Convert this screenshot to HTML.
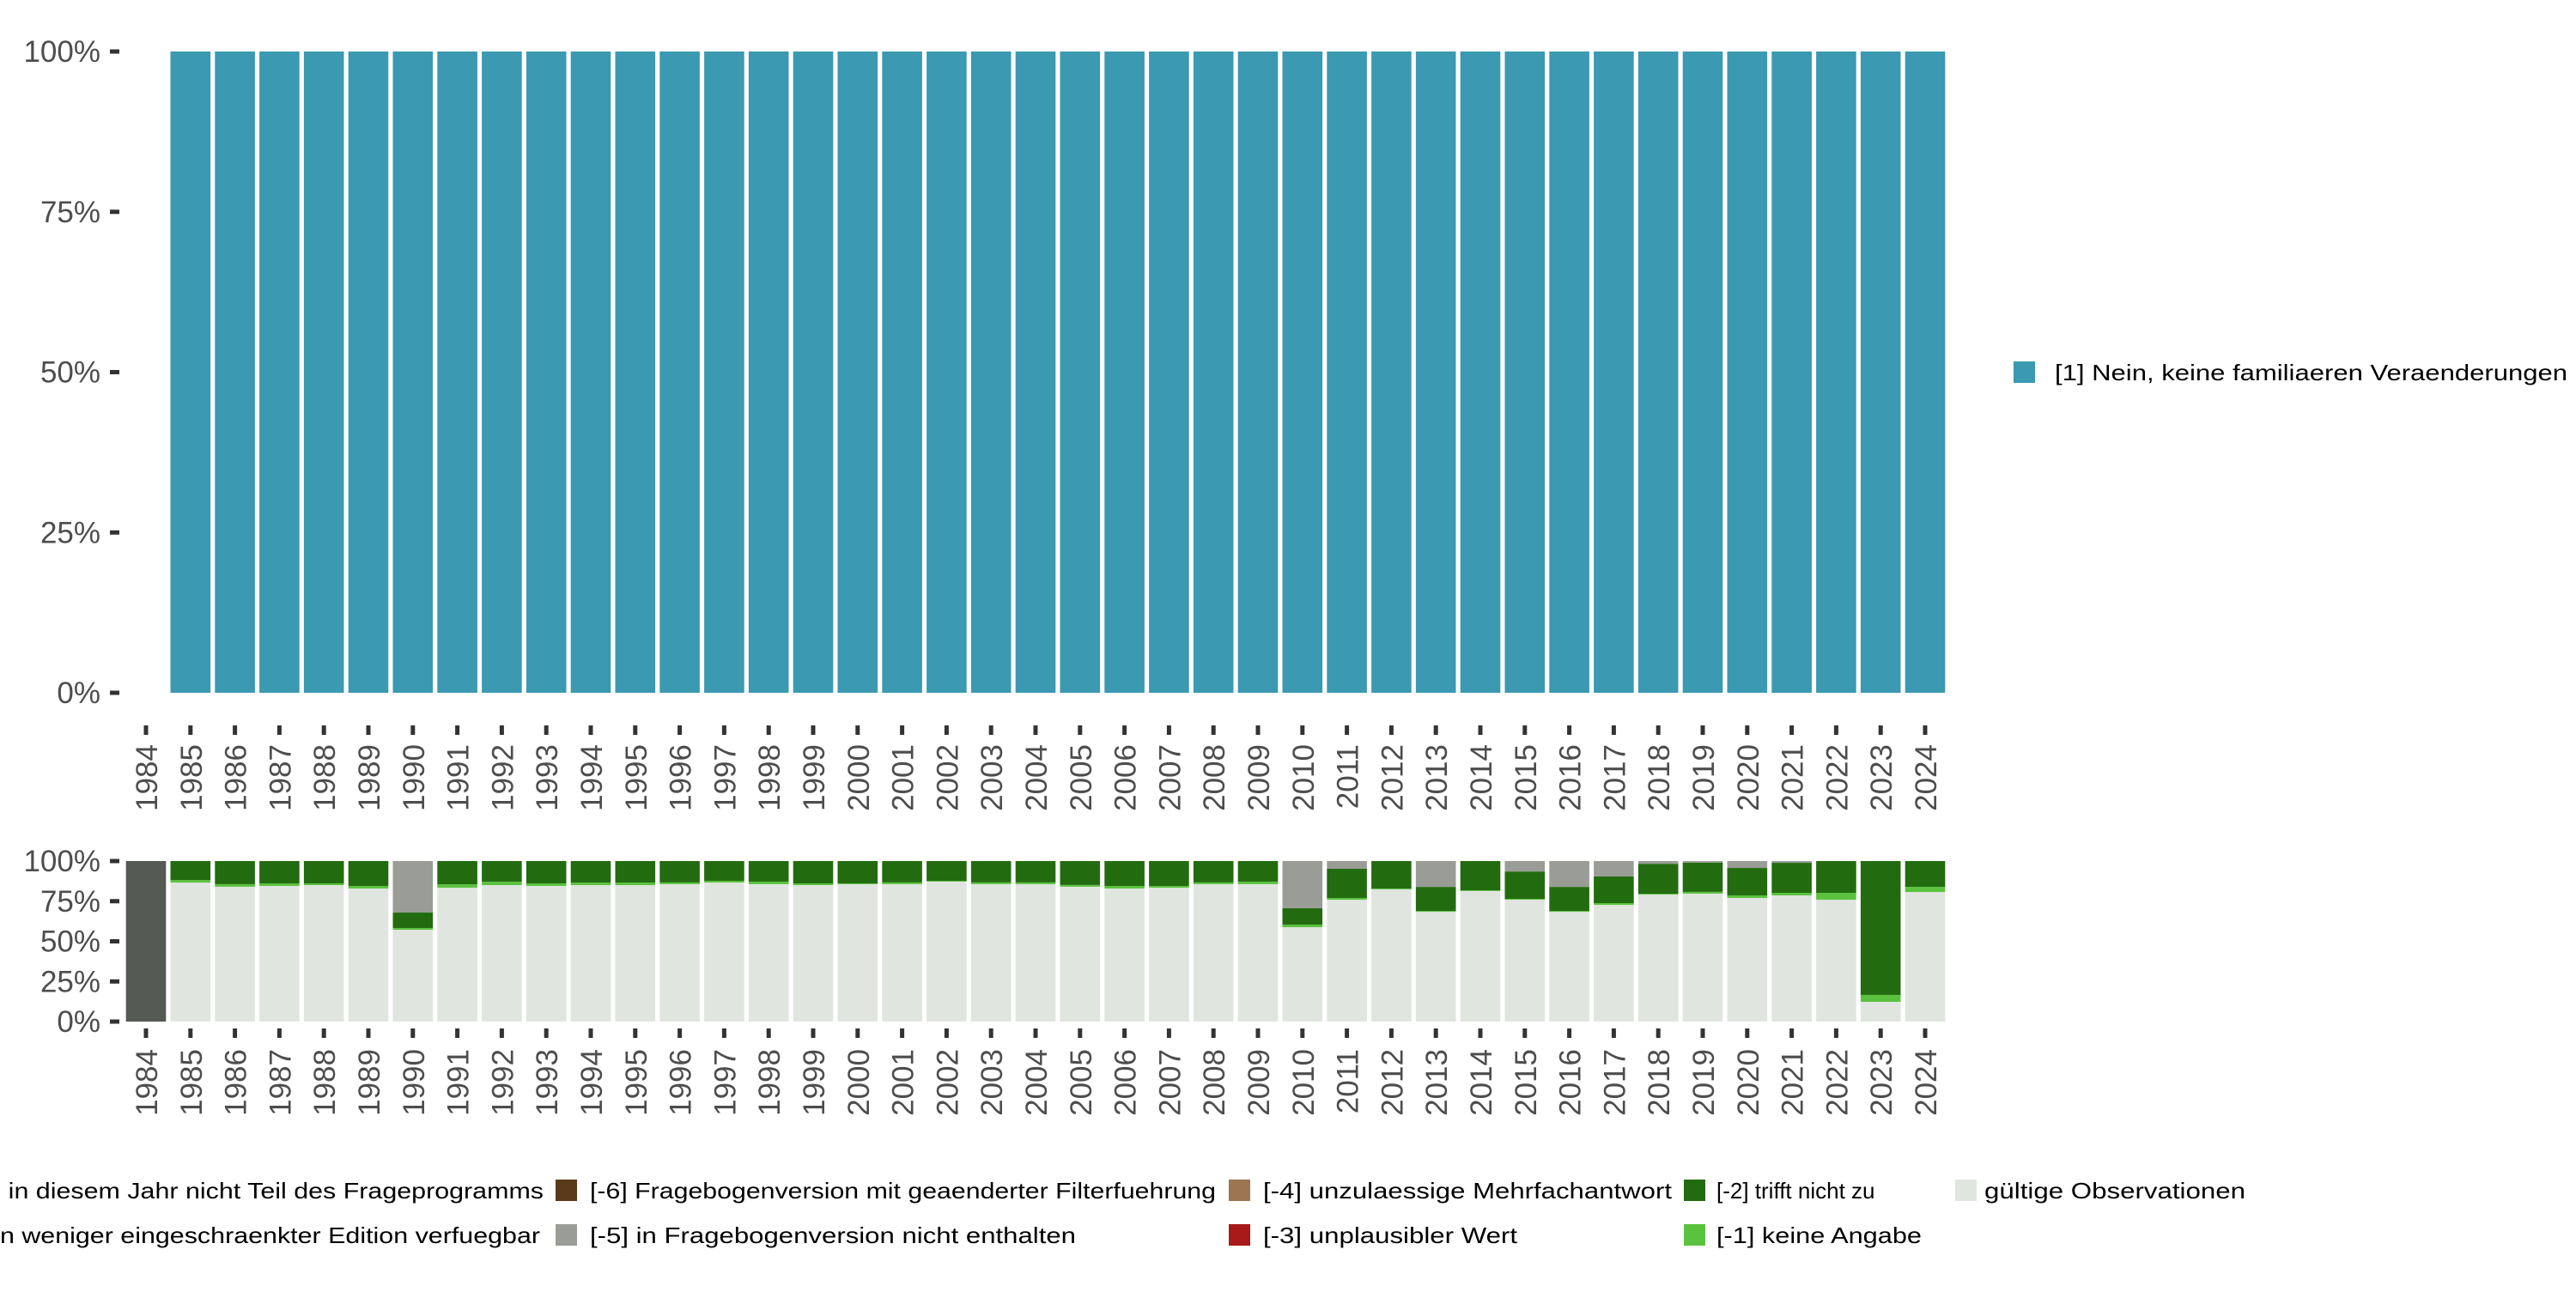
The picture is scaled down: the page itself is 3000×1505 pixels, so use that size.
<!DOCTYPE html>
<html><head><meta charset="utf-8"><style>
body{margin:0;background:#fff;}
svg text{font-family:"Liberation Sans",sans-serif;}
</style></head><body>
<svg id="chart" width="3000" height="1500" viewBox="0 0 3000 1500" xmlns="http://www.w3.org/2000/svg"></svg>
<script>
const years = [];
for (let y = 1984; y <= 2024; y++) years.push(y);
const yTicks = [0, 25, 50, 75, 100];
const tickLabels = ["0%", "25%", "50%", "75%", "100%"];
// top chart: share of [1] per year (1984 missing)
const topValues = [null,100,100,100,100,100,100,100,100,100,100,100,100,100,100,100,100,100,100,100,100,100,100,100,100,100,100,100,100,100,100,100,100,100,100,100,100,100,100,100,100];
// bottom chart series (percent), stacked from bottom
const valid = [0,86.6,84.0,84.5,85.0,82.9,57.2,83.4,85.0,84.5,85.0,85.0,85.6,86.6,85.6,85.0,85.6,85.6,87.2,85.6,85.6,84.0,82.9,83.4,85.6,85.6,58.8,75.9,82.4,68.4,81.3,75.9,68.4,72.7,79.1,79.7,77.0,78.6,75.9,12.3,80.7];
const noAnswer = [0,1.6,1.6,1.6,1.1,1.6,1.1,2.1,2.1,1.6,1.6,1.6,1.1,1.1,1.6,1.1,0.5,1.1,0.5,1.1,1.1,1.1,1.6,1.1,1.1,1.6,1.6,1.1,0.5,0.5,0.5,0.5,0.5,1.1,0.5,1.1,1.6,1.6,4.3,4.3,3.2];
const notApplies = [0,11.8,14.4,13.9,13.9,15.5,9.6,14.5,12.9,13.9,13.4,13.4,13.3,12.3,12.8,13.9,13.9,13.3,12.3,13.3,13.3,14.9,15.5,15.5,13.3,12.8,10.2,18.2,17.1,15.0,18.2,17.1,15.0,16.6,18.7,18.2,17.1,18.7,19.8,83.4,16.1];
const notInVersion = [0,0,0,0,0,0,32.1,0,0,0,0,0,0,0,0,0,0,0,0,0,0,0,0,0,0,0,29.4,4.8,0,16.1,0,6.5,16.1,9.6,1.7,1.0,4.3,1.1,0,0,0];
const notInYear = [100,0,0,0,0,0,0,0,0,0,0,0,0,0,0,0,0,0,0,0,0,0,0,0,0,0,0,0,0,0,0,0,0,0,0,0,0,0,0,0,0];

const svg = document.getElementById('chart');
const NS = 'http://www.w3.org/2000/svg';
function mk(tag, attrs, parent) {
  const e = document.createElementNS(NS, tag);
  for (const k in attrs) e.setAttribute(k, attrs[k]);
  (parent || svg).appendChild(e);
  return e;
}
const x0 = 170, step = 51.8, bw = 46.6;
const xPos = i => x0 + i * step;

function drawAxes(yTop, yBot, tickY, labelY, prefix) {
  const ys = v => yBot - (yBot - yTop) * v / 100;
  yTicks.forEach((t, i) => {
    const tk = mk('rect', {x:128, y:ys(t)-2.5, width:11, height:5, fill:'#333'});
    
    
    const tx = mk('text', {x:117, y:ys(t)+12, 'text-anchor':'end', 'font-size':35, fill:'#4d4d4d'});
    tx.textContent = tickLabels[i];
    
    
  });
  years.forEach((yr, i) => {
    const tk = mk('rect', {x:xPos(i)-2.5, y:tickY, width:5, height:11, fill:'#333'});
    
    
    const tx = mk('text', {transform:'translate(' + (xPos(i)+13) + ',' + labelY + ') rotate(-90)', 'text-anchor':'end', 'font-size':35, fill:'#4d4d4d'});
    tx.textContent = yr;
    
    
  });
  return ys;
}

// top chart
const ysTop = drawAxes(60, 807, 845, 867, 'top');
topValues.forEach((v, i) => {
  if (v === null) return;
  const r = mk('rect', {x:xPos(i)-bw/2, y:ysTop(v), width:bw, height:ysTop(0)-ysTop(v), fill:'#3b99b1'});
  
  
});

// bottom chart
const ysBot = drawAxes(1003, 1190, 1198, 1222, 'bottom');
const series = [
  {vals: valid, color:'#e0e5e0', name:'valid'},
  {vals: noAnswer, color:'#5bc23f', name:'no-answer'},
  {vals: notApplies, color:'#226c0f', name:'not-applies'},
  {vals: notInVersion, color:'#999d96', name:'not-in-version'},
  {vals: notInYear, color:'#535953', name:'not-in-year'}
];
years.forEach((yr, i) => {
  let cum = 0;
  series.forEach(s => {
    const v = s.vals[i];
    if (v > 0) {
      const r = mk('rect', {x:xPos(i)-bw/2, y:ysBot(cum+v), width:bw, height:ysBot(cum)-ysBot(cum+v), fill:s.color});
      
      
    }
    cum += v;
  });
});

// top legend
const lk = mk('rect', {x:2345, y:421, width:25, height:25, fill:'#3b99b1'});


const lt = mk('text', {x:2393, y:443, 'font-size':26, fill:'#000', textLength:597, lengthAdjust:'spacingAndGlyphs'});
lt.textContent = '[1] Nein, keine familiaeren Veraenderungen';



// bottom legend
const legItems = [
  {k:null, tx:633, y:1396, c:'#535953', t:'[-8] Frage in diesem Jahr nicht Teil des Frageprogramms', end:true, w:0},
  {k:null, tx:629, y:1448, c:'#7a7a7a', t:'[-7] Nur in weniger eingeschraenkter Edition verfuegbar', end:true, w:0},
  {k:647, tx:687, y:1396, c:'#5a3a1a', t:'[-6] Fragebogenversion mit geaenderter Filterfuehrung', w:729},
  {k:647, tx:687, y:1448, c:'#999d96', t:'[-5] in Fragebogenversion nicht enthalten', w:566},
  {k:1431, tx:1471, y:1396, c:'#9b7650', t:'[-4] unzulaessige Mehrfachantwort', w:476},
  {k:1431, tx:1471, y:1448, c:'#a81a1a', t:'[-3] unplausibler Wert', w:296},
  {k:1961, tx:1999, y:1396, c:'#226c0f', t:'[-2] trifft nicht zu', w:-1},
  {k:1961, tx:1999, y:1448, c:'#5bc23f', t:'[-1] keine Angabe', w:239},
  {k:2277, tx:2311, y:1396, c:'#e0e5e0', t:'gültige Observationen', w:304}
];
legItems.forEach(it => {
  if (it.k !== null) {
    const r = mk('rect', {x:it.k, y:it.y-22, width:25, height:25, fill:it.c});
    
    
  }
  const t = mk('text', {x:it.tx, y:it.y, 'font-size':26, fill:'#000', 'text-anchor': it.end ? 'end' : 'start'});
  t.textContent = it.t;
  
  
  let w = it.w;
  if (w < 0) return;
  if (!w) w = t.getComputedTextLength() * 1.17;
  t.setAttribute('textLength', w);
  t.setAttribute('lengthAdjust', 'spacingAndGlyphs');
});
</script>
</body></html>
